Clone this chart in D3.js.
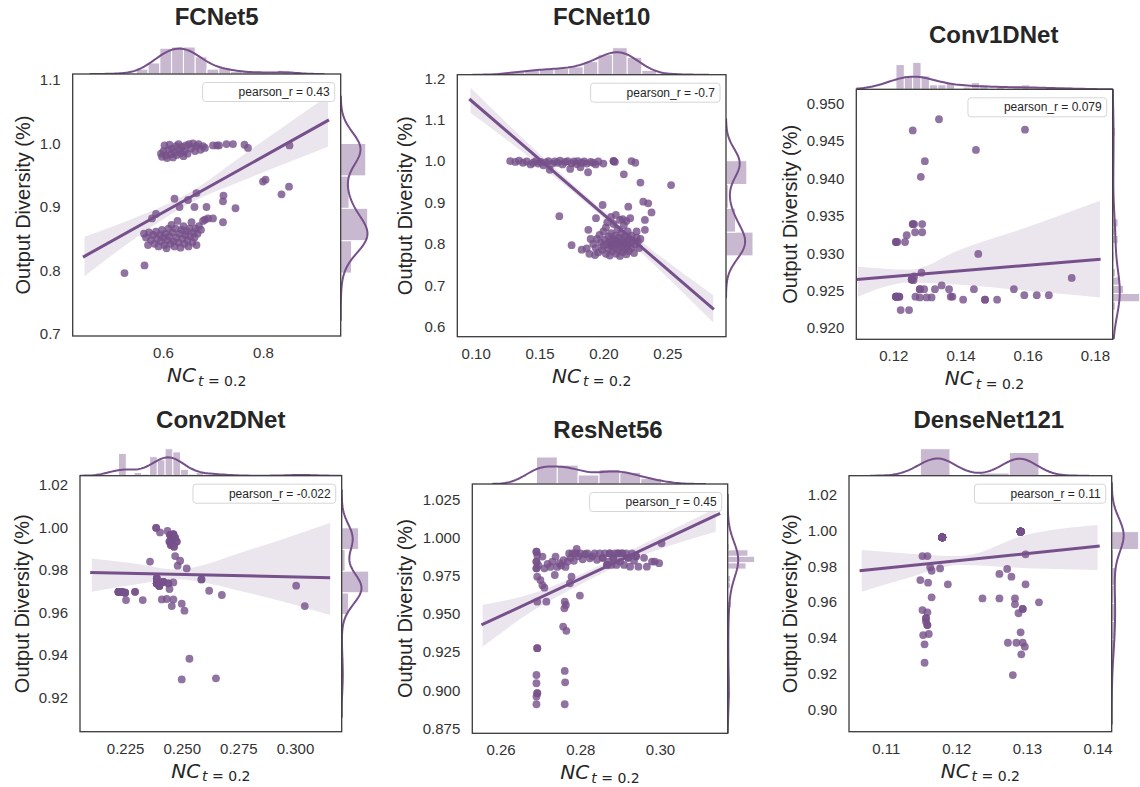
<!DOCTYPE html>
<html>
<head>
<meta charset="utf-8">
<script src="https://cdn.jsdelivr.net/npm/d3@7"></script>
<style>
  body { margin: 0; background: #fff; }
  svg { display: block; font-family: "Liberation Sans", Arial, sans-serif; }
</style>
</head>
<body>
<svg id="chart" width="1140" height="787"></svg>
<script>
// values: [x, y] or [x, y, how many points sit on top of each other]
const models = ["FCNet5", "FCNet10", "Conv1DNet", "Conv2DNet", "ResNet56", "DenseNet121"];
const pearsonR = ["0.43", "-0.7", "0.079", "-0.022", "0.45", "0.11"];

const fcnet5Points = [
  [0.596,0.984],[0.598,0.979],[0.601,0.988],[0.603,0.997],[0.606,0.981],[0.608,0.977],[0.611,0.990],[0.613,0.998],
  [0.616,0.983],[0.618,0.992],[0.620,0.978],[0.623,0.986],[0.626,0.996],[0.628,0.982],[0.631,0.999],[0.633,0.990],
  [0.636,0.985],[0.638,0.995],[0.641,0.980],[0.643,0.988],[0.646,0.997],[0.649,0.984],[0.652,0.999],[0.656,0.992],
  [0.660,1.000],[0.664,0.988],[0.667,0.996],[0.671,0.999],[0.675,0.990],[0.680,0.996],[0.684,0.993],[0.700,0.997],
  [0.708,0.997],[0.712,0.997],[0.727,0.999],[0.740,0.999],[0.763,0.998],[0.770,0.993],[0.853,0.997],
  [0.562,0.858],[0.566,0.852],[0.570,0.840],[0.572,0.860],[0.576,0.848],[0.580,0.856],[0.583,0.842],[0.586,0.861],
  [0.588,0.850],[0.591,0.838],[0.594,0.856],[0.596,0.846],[0.598,0.864],[0.601,0.852],[0.603,0.840],[0.605,0.858],
  [0.607,0.835],[0.609,0.848],[0.611,0.866],[0.613,0.854],[0.615,0.842],[0.617,0.872],[0.619,0.860],[0.621,0.846],
  [0.623,0.838],[0.625,0.866],[0.627,0.852],[0.629,0.878],[0.631,0.844],[0.633,0.858],[0.635,0.836],[0.637,0.864],
  [0.639,0.850],[0.641,0.870],[0.643,0.842],[0.645,0.856],[0.647,0.862],[0.649,0.848],[0.651,0.838],[0.653,0.866],
  [0.655,0.854],[0.657,0.876],[0.659,0.844],[0.661,0.860],[0.663,0.852],[0.665,0.866],[0.667,0.840],[0.669,0.858],
  [0.672,0.870],[0.676,0.864],[0.680,0.878],[0.684,0.880],[0.690,0.882],[0.700,0.882],[0.720,0.876],
  [0.578,0.882],[0.586,0.889],[0.623,0.913],[0.633,0.900],[0.650,0.911],[0.663,0.900],[0.667,0.922],[0.687,0.900],
  [0.720,0.909],[0.721,0.918],[0.745,0.898],
  [0.523,0.796],[0.563,0.808],[0.800,0.940],[0.805,0.943],[0.837,0.920],[0.852,0.932]
];
const fcnet10Points = [
  [0.127,1.000],[0.131,0.998],[0.134,1.001],[0.137,0.996],[0.140,0.999],[0.143,0.992],[0.145,0.996],[0.147,1.000],
  [0.149,0.994],[0.151,0.998],[0.153,0.990],[0.155,0.997],[0.157,1.000],[0.158,0.979],[0.160,0.994],[0.162,0.999],
  [0.164,0.996],[0.166,1.001],[0.168,0.992],[0.170,0.998],[0.172,1.000],[0.174,0.981],[0.175,0.995],[0.177,0.999],
  [0.179,0.993],[0.180,1.000],[0.182,0.985],[0.183,0.996],[0.185,0.999],[0.187,0.994],[0.188,0.973],[0.190,0.998],
  [0.192,0.996],[0.194,0.992],[0.196,0.999],[0.200,0.994],[0.208,1.000,3],[0.209,0.998],[0.216,0.968],[0.222,1.000],
  [0.225,0.996],[0.229,0.948],[0.253,0.942],
  [0.1655,0.867],[0.1751,0.797],[0.1994,0.894],[0.2195,0.890],[0.2312,0.902],[0.2351,0.898],[0.2377,0.876],
  [0.2325,0.858],[0.2325,0.834],[0.226,0.830],[0.1882,0.834],[0.1942,0.862],[0.1869,0.789],[0.1934,0.773],
  [0.2098,0.870],[0.213,0.858],[0.183,0.786],[0.189,0.776],[0.190,0.812],
  [0.192,0.800],[0.194,0.790],[0.195,0.812],[0.196,0.779],[0.197,0.822],[0.198,0.803],[0.199,0.785],[0.200,0.830],
  [0.200,0.795],[0.201,0.810],[0.202,0.776],[0.202,0.840],[0.203,0.800],[0.204,0.818],[0.204,0.788],[0.205,0.806],
  [0.205,0.772],[0.206,0.826],[0.206,0.795],[0.207,0.812],[0.207,0.782],[0.208,0.848],[0.208,0.800],[0.209,0.820],
  [0.209,0.790],[0.210,0.808],[0.210,0.776],[0.211,0.835],[0.211,0.798],[0.212,0.815],[0.212,0.785],[0.213,0.803],
  [0.213,0.771],[0.214,0.826],[0.214,0.793],[0.215,0.810],[0.215,0.780],[0.216,0.845],[0.216,0.800],[0.217,0.818],
  [0.217,0.788],[0.218,0.806],[0.218,0.775],[0.219,0.830],[0.219,0.795],[0.220,0.812],[0.220,0.783],[0.221,0.802],
  [0.222,0.820],[0.222,0.790],[0.223,0.808],[0.224,0.778],[0.225,0.798],[0.226,0.815],[0.227,0.805],[0.228,0.790],
  [0.229,0.812],[0.215,0.860],[0.218,0.855],[0.221,0.862],[0.203,0.852],[0.206,0.865]
];
const conv1dPoints = [
  [0.1258,0.9464],[0.1336,0.9479],[0.1592,0.9465],[0.1446,0.9438],[0.1294,0.9423],[0.1282,0.9402],
  [0.1258,0.9339,2],[0.1262,0.9339],[0.1286,0.9339],[0.1265,0.9328],[0.1286,0.9328],[0.1240,0.9324],
  [0.1208,0.9315,2],[0.1212,0.9315],[0.1235,0.9315],[0.1453,0.9299],[0.1284,0.9274],
  [0.1255,0.9265,3],[0.1260,0.9264],[0.1262,0.9269],[0.1731,0.9267],
  [0.1208,0.9242,3],[0.1212,0.9242,2],[0.1218,0.9242,2],[0.1222,0.9224],[0.1247,0.9224],
  [0.1266,0.9242],[0.1279,0.9252,2],[0.1292,0.9252],[0.1279,0.9241],[0.1299,0.9241],[0.1314,0.9241],[0.1324,0.9252],
  [0.1344,0.9257],[0.1366,0.9252],[0.1371,0.9242],[0.1376,0.9242],[0.1408,0.9238],[0.1440,0.9252],[0.1473,0.9238,2],
  [0.1509,0.9238],[0.1559,0.9252],[0.1590,0.9244],[0.1627,0.9244],[0.1663,0.9244]
];
const conv2dPoints = [
  [0.2387,0.9999,2],[0.2404,0.9977],[0.2437,0.9984],[0.2449,0.9965,3],[0.2463,0.9968,4],[0.2456,0.9946,4],
  [0.2471,0.9952,2],[0.2446,0.9934,2],[0.2478,0.9934,2],[0.2452,0.9918,2],[0.2466,0.9910,2],[0.2471,0.9866],
  [0.2493,0.9844],[0.2482,0.9821],[0.2522,0.9808],[0.2360,0.9840],
  [0.2390,0.9761,3],[0.2390,0.9738,6],[0.2401,0.9727,5],[0.2419,0.9745,3],[0.2441,0.9738,2],[0.2463,0.9742],
  [0.2446,0.9711],[0.2587,0.9756,2],[0.2621,0.9703],[0.2677,0.9683],
  [0.2221,0.9698,5],[0.2235,0.9698,5],[0.2250,0.9694,3],[0.2254,0.9659],[0.2294,0.9698,2],[0.2328,0.9659],
  [0.2412,0.9662],[0.2434,0.9664],[0.2463,0.9662],[0.2456,0.9631],[0.2500,0.9642],[0.2512,0.9609],
  [0.3005,0.9727],[0.3043,0.9631],[0.2534,0.9383],[0.2500,0.9286],[0.2651,0.9291]
];
const resnet56Points = [
  [0.2690,0.9910,2],[0.2692,0.9889],[0.2690,0.9845,2],[0.2695,0.9820],[0.2690,0.9801,2],[0.2692,0.9746],
  [0.2700,0.9724],[0.2705,0.9690],[0.2710,0.9674],[0.2692,0.9582],[0.2715,0.9582],
  [0.2692,0.9276,2],[0.2690,0.9100],[0.2690,0.9046],[0.2692,0.8980,2],[0.2690,0.8958],[0.2690,0.8908],
  [0.2761,0.9127],[0.2762,0.9052],[0.2761,0.8908],[0.2757,0.9418],[0.2765,0.9390],[0.2761,0.9582],
  [0.2760,0.9538],[0.2764,0.9560],[0.2799,0.9622],[0.2774,0.9703],[0.2778,0.9746],[0.2736,0.9757],
  [0.2705,0.9878],[0.2710,0.9801],[0.2718,0.9830],[0.2725,0.9810],[0.2730,0.9845],[0.2738,0.9878],[0.2742,0.9810],
  [0.2748,0.9835],[0.2752,0.9820],[0.2758,0.9855],[0.2763,0.9810],[0.2768,0.9845],[0.2772,0.9899],[0.2776,0.9870],
  [0.2780,0.9899],[0.2784,0.9850],[0.2788,0.9900],[0.2791,0.9928],[0.2795,0.9880],[0.2800,0.9899],[0.2806,0.9860],
  [0.2812,0.9895],[0.2818,0.9899],[0.2824,0.9867],[0.2830,0.9880],[0.2836,0.9899],[0.2842,0.9857],[0.2849,0.9899],
  [0.2856,0.9870,2],[0.2862,0.9899],[0.2867,0.9823,2],[0.2870,0.9845],[0.2874,0.9899,2],[0.2878,0.9823],
  [0.2883,0.9870,2],[0.2887,0.9899],[0.2891,0.9823],[0.2895,0.9899,2],[0.2900,0.9845],[0.2905,0.9899,2],
  [0.2910,0.9823],[0.2915,0.9899],[0.2920,0.9870,2],[0.2925,0.9812],[0.2930,0.9899],[0.2935,0.9850],
  [0.2940,0.9880,2],[0.2946,0.9812],[0.2960,0.9870],[0.2967,0.9812],[0.2980,0.9845],[0.2987,0.9845],
  [0.2998,0.9835],[0.3004,0.9965]
];
const densenetPoints = [
  [0.1180,0.9963,30],[0.1291,0.9995,28],
  [0.1152,0.9858],[0.1159,0.9858],[0.1163,0.9795],[0.1165,0.9776],[0.1177,0.9789],[0.1149,0.9724],[0.1160,0.9709],
  [0.1188,0.9700],[0.1165,0.9627],[0.1152,0.9556],[0.1159,0.9543],[0.1157,0.9510,2],[0.1159,0.9472,2],[0.1157,0.9490],
  [0.1153,0.9416],[0.1161,0.9422],[0.1155,0.9364],[0.1155,0.9261],
  [0.1272,0.9786],[0.1261,0.9758],[0.1278,0.9743],[0.1298,0.9868],[0.1298,0.9700],[0.1237,0.9621],[0.1261,0.9621],
  [0.1283,0.9621],[0.1283,0.9588],[0.1288,0.9538],[0.1294,0.9562,2],[0.1317,0.9599],[0.1291,0.9431],[0.1273,0.9373],
  [0.1285,0.9373],[0.1294,0.9373],[0.1297,0.9351],[0.1292,0.9308],[0.1280,0.9192]
];

// fitted line ends and confidence band [x, low, high], as drawn
const fcnet5Line = [[0.44, 0.8211], [0.932, 1.0371]];
const fcnet10Line = [[0.095, 1.150], [0.2865, 0.6418]];
const conv1dLine = [[0.1091, 0.9265], [0.1817, 0.9292]];
const conv2dLine = [[0.2096, 0.9789], [0.3155, 0.9764]];
const resnet56Line = [[0.2552, 0.9429], [0.3151, 1.0162]];
const densenetLine = [[0.1063, 0.9776], [0.1403, 0.9914]];

const fcnet5Band = [[0.443,0.791,0.853],[0.55,0.854,0.885],[0.64,0.900,0.917],[0.78,0.948,0.993],[0.93,0.995,1.075]];
const fcnet10Band = [[0.096,1.117,1.177],[0.14,1.014,1.046],[0.19,0.890,0.906],[0.24,0.749,0.781],[0.286,0.610,0.676]];
const conv1dBand = [[0.1095,0.9242,0.9282],[0.125,0.9261,0.9278],[0.14,0.9258,0.9305],[0.16,0.9250,0.9335],[0.1815,0.9241,0.9370]];
const conv2dBand = [[0.2103,0.9698,0.9855],[0.23,0.9733,0.9830],[0.247,0.9757,0.9803],[0.28,0.9691,0.9896],[0.3155,0.9589,1.0023]];
const resnet56Band = [[0.2555,0.9286,0.9560],[0.268,0.9520,0.9635],[0.28,0.9695,0.9760],[0.295,0.9880,0.9950],[0.314,1.0042,1.0195]];
const densenetBand = [[0.1066,0.9659,0.9892],[0.113,0.9734,0.9873],[0.1205,0.9808,0.9858],[0.13,0.9790,0.9978],[0.14,0.9780,1.0032]];

const xTicks = [[0.6, 0.8], [0.10, 0.15, 0.20, 0.25], [0.12, 0.14, 0.16, 0.18],
                [0.225, 0.250, 0.275, 0.300], [0.26, 0.28, 0.30], [0.11, 0.12, 0.13, 0.14]];
const yTicks = [[0.7, 0.8, 0.9, 1.0, 1.1], [0.6, 0.7, 0.8, 0.9, 1.0, 1.1, 1.2],
                [0.920, 0.925, 0.930, 0.935, 0.940, 0.945, 0.950], [0.92, 0.94, 0.96, 0.98, 1.00, 1.02],
                [0.875, 0.900, 0.925, 0.950, 0.975, 1.000, 1.025], [0.90, 0.92, 0.94, 0.96, 0.98, 1.00, 1.02]];
const topBins = [14, 11, 21, 24, 6, 4];
const rightBins = [4, 4, 23, 7, 25, 8];

const allPoints = [fcnet5Points, fcnet10Points, conv1dPoints, conv2dPoints, resnet56Points, densenetPoints];
const allLines = [fcnet5Line, fcnet10Line, conv1dLine, conv2dLine, resnet56Line, densenetLine];
const allBands = [fcnet5Band, fcnet10Band, conv1dBand, conv2dBand, resnet56Band, densenetBand];

// where each jointplot sits on the page
const layout = [
  {L: 72.7, R: 340.7, T: 74, B: 336, xDom: [0.4194, 0.9554], yDom: [0.6969, 1.1094], titleX: 216.7, titleY: 25, ylabX: 23.3, xFmt: ".1f", yFmt: ".1f"},
  {L: 457.3, R: 726, T: 74.7, B: 336.7, xDom: [0.0856, 0.2960], yDom: [0.5758, 1.2087], titleX: 601.7, titleY: 25, ylabX: 405, xFmt: ".2f", yFmt: ".1f"},
  {L: 856.3, R: 1112.7, T: 89.3, B: 339.3, xDom: [0.1090, 0.1853], yDom: [0.9185, 0.9519], titleX: 993.7, titleY: 43.3, ylabX: 790, xFmt: ".2f", yFmt: ".3f"},
  {L: 80, R: 341.7, T: 475.7, B: 731.7, xDom: [0.2051, 0.3206], yDom: [0.9040, 1.0244], titleX: 220.8, titleY: 428.3, ylabX: 21.7, xFmt: ".3f", yFmt: ".2f"},
  {L: 472.3, R: 727.7, T: 484, B: 733.3, xDom: [0.2529, 0.3170], yDom: [0.8717, 1.0355], titleX: 608, titleY: 437.7, ylabX: 405, xFmt: ".2f", yFmt: ".3f"},
  {L: 849, R: 1111.7, T: 475.7, B: 731.7, xDom: [0.1048, 0.1420], yDom: [0.8875, 1.0308], titleX: 988.8, titleY: 428.3, ylabX: 790, xFmt: ".2f", yFmt: ".2f"}
];

const purple = "#76508a";
const textColor = "#262626";
const margH = 27;

const svg = d3.select("#chart");
const defs = svg.append("defs");

function kdeCurve(values) {
  const n = values.length;
  const bw = d3.deviation(values) * Math.pow(n, -0.2);
  const [lo, hi] = d3.extent(values);
  const a = lo - 3 * bw, b = hi + 3 * bw;
  return d3.range(100).map(k => {
    const t = a + k * (b - a) / 99;
    const s = d3.sum(values, v => Math.exp(-0.5 * ((t - v) / bw) ** 2));
    return [t, s / (n * bw * Math.sqrt(2 * Math.PI))];
  });
}

function histogram(values, nb) {
  const [lo, hi] = d3.extent(values);
  const w = (hi - lo) / nb;
  const bins = d3.bin().domain([lo, hi]).thresholds(d3.range(1, nb).map(k => lo + k * w))(values);
  return bins.map(b => ({x0: b.x0, x1: b.x1, d: b.length / (values.length * w)}));
}

function drawPanel(i) {
  const c = layout[i];
  const pts = allPoints[i].flatMap(p => Array(p[2] || 1).fill(p));
  const x = d3.scaleLinear().domain(c.xDom).range([c.L, c.R]);
  const y = d3.scaleLinear().domain(c.yDom).range([c.B, c.T]);
  const g = svg.append("g");

  defs.append("clipPath").attr("id", "box" + i).append("rect")
      .attr("x", c.L).attr("y", c.T).attr("width", c.R - c.L).attr("height", c.B - c.T);
  defs.append("clipPath").attr("id", "top" + i).append("rect")
      .attr("x", c.L).attr("y", c.T - 60).attr("width", c.R - c.L).attr("height", 60);
  defs.append("clipPath").attr("id", "right" + i).append("rect")
      .attr("x", c.R).attr("y", c.T).attr("width", 60).attr("height", c.B - c.T);

  // marginal distributions
  const xs = pts.map(p => p[0]), ys = pts.map(p => p[1]);
  const hx = histogram(xs, topBins[i]), kx = kdeCurve(xs);
  const hy = histogram(ys, rightBins[i]), ky = kdeCurve(ys);
  const topScale = d3.scaleLinear()
      .domain([0, Math.max(d3.max(hx, b => b.d), d3.max(kx, d => d[1]))]).range([c.T, c.T - margH]);
  const rightScale = d3.scaleLinear()
      .domain([0, Math.max(d3.max(hy, b => b.d), d3.max(ky, d => d[1]))]).range([c.R, c.R + margH]);

  const gt = g.append("g").attr("clip-path", "url(#top" + i + ")");
  gt.selectAll("rect").data(hx).enter().append("rect")
      .attr("x", b => x(b.x0)).attr("width", b => x(b.x1) - x(b.x0))
      .attr("y", b => topScale(b.d)).attr("height", b => c.T - topScale(b.d))
      .attr("fill", purple).attr("fill-opacity", 0.4).attr("stroke", "#fff").attr("stroke-width", 1);
  gt.append("path").datum(kx)
      .attr("d", d3.line().x(d => x(d[0])).y(d => topScale(d[1])))
      .attr("fill", "none").attr("stroke", purple).attr("stroke-width", 2);

  const gr = g.append("g").attr("clip-path", "url(#right" + i + ")");
  gr.selectAll("rect").data(hy).enter().append("rect")
      .attr("y", b => y(b.x1)).attr("height", b => y(b.x0) - y(b.x1))
      .attr("x", c.R).attr("width", b => rightScale(b.d) - c.R)
      .attr("fill", purple).attr("fill-opacity", 0.4).attr("stroke", "#fff").attr("stroke-width", 1);
  gr.append("path").datum(ky)
      .attr("d", d3.line().x(d => rightScale(d[1])).y(d => y(d[0])))
      .attr("fill", "none").attr("stroke", purple).attr("stroke-width", 2);

  // joint axes
  g.append("rect").attr("x", c.L).attr("y", c.T).attr("width", c.R - c.L).attr("height", c.B - c.T)
      .attr("fill", "#fff");
  const gj = g.append("g").attr("clip-path", "url(#box" + i + ")");
  gj.append("path").datum(allBands[i])
      .attr("d", d3.area().x(d => x(d[0])).y0(d => y(d[1])).y1(d => y(d[2])).curve(d3.curveMonotoneX))
      .attr("fill", purple).attr("fill-opacity", 0.15);
  gj.selectAll("circle").data(pts).enter().append("circle")
      .attr("cx", d => x(d[0])).attr("cy", d => y(d[1])).attr("r", 3.9)
      .attr("fill", purple).attr("fill-opacity", 0.8);
  gj.append("path").datum(allLines[i])
      .attr("d", d3.line().x(d => x(d[0])).y(d => y(d[1])))
      .attr("stroke", purple).attr("stroke-width", 3).attr("fill", "none");

  // legend with the correlation
  const leg = g.append("rect").attr("y", c.T + 8.5).attr("height", 19).attr("rx", 3)
      .attr("fill", "#fff").attr("fill-opacity", 0.8).attr("stroke", "#d6d6d6").attr("stroke-width", 1);
  const lt = g.append("text").attr("x", c.R - 11).attr("y", c.T + 22)
      .attr("text-anchor", "end").attr("fill", textColor).style("font-size", "12px")
      .text("pearson_r = " + pearsonR[i]);
  const tw = lt.node().getComputedTextLength();
  leg.attr("x", c.R - 6 - (tw + 41)).attr("width", tw + 41);

  g.append("rect").attr("x", c.L).attr("y", c.T).attr("width", c.R - c.L).attr("height", c.B - c.T)
      .attr("fill", "none").attr("stroke", "#3a3a3a").attr("stroke-width", 1.3);

  // axes
  const ax = g.append("g").attr("transform", "translate(0," + c.B + ")")
      .call(d3.axisBottom(x).tickValues(xTicks[i]).tickFormat(d3.format(c.xFmt)).tickSize(0).tickPadding(11.4));
  const ay = g.append("g").attr("transform", "translate(" + c.L + ",0)")
      .call(d3.axisLeft(y).tickValues(yTicks[i]).tickFormat(d3.format(c.yFmt)).tickSize(0).tickPadding(12));
  [ax, ay].forEach(a => {
    a.select(".domain").remove();
    a.selectAll("text").attr("fill", "#333").style("font-size", "15px")
        .style("font-family", '"Liberation Sans", Arial, sans-serif');
  });

  // titles and labels
  g.append("text").attr("x", c.titleX).attr("y", c.titleY).attr("text-anchor", "middle")
      .attr("fill", textColor).style("font-size", "24px").style("font-weight", "bold")
      .text(models[i]);
  g.append("text")
      .attr("transform", "translate(" + c.ylabX + "," + (c.T + c.B) / 2 + ") rotate(-90)")
      .attr("text-anchor", "middle").attr("dominant-baseline", "central")
      .attr("fill", textColor).style("font-size", "20px").text("Output Diversity (%)");
  const xl = g.append("text").attr("x", (c.L + c.R) / 2).attr("y", c.B + 46)
      .attr("text-anchor", "middle").attr("fill", textColor)
      .style("font-family", '"DejaVu Sans", sans-serif');
  xl.append("tspan").style("font-style", "italic").style("font-size", "20px").text("NC");
  xl.append("tspan").attr("dx", 2).attr("dy", 3.5).style("font-style", "italic").style("font-size", "14px").text("t");
  xl.append("tspan").style("font-size", "14px").text(" = 0.2");
}

models.forEach((m, i) => drawPanel(i));
</script>
</body>
</html>
